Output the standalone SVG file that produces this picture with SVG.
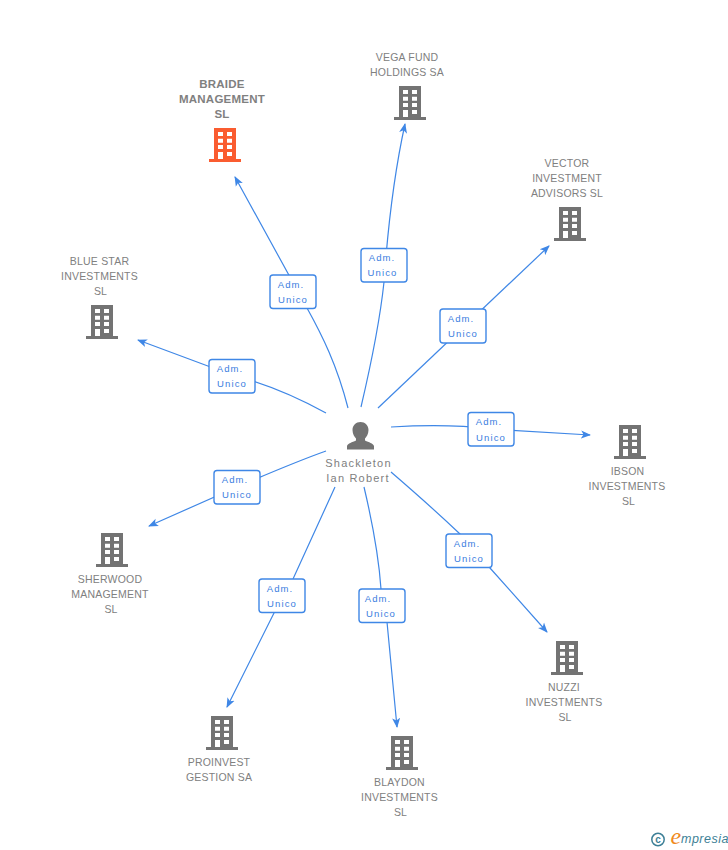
<svg xmlns="http://www.w3.org/2000/svg" width="728" height="850" viewBox="0 0 728 850">
<style>
text{font-family:"Liberation Sans",Arial,sans-serif}
.n{font-size:10.5px;fill:#808080;text-anchor:middle;letter-spacing:.2px}
.b{font-size:11.500px;font-weight:bold;fill:#808080;text-anchor:middle;letter-spacing:.25px}
.p{font-size:11px;fill:#808080;text-anchor:middle;letter-spacing:1.2px}
.l{font-size:9.500px;fill:#3a7de0;text-anchor:middle;letter-spacing:1.1px}
.r{fill:#fff;stroke:#3f87e6;stroke-width:1.400}
.c{fill:none;stroke:#3f87e6;stroke-width:1.200}
.g{fill:#737373}
.o{fill:#fa5c30}
</style>
<defs>
<marker id="a" markerUnits="userSpaceOnUse" viewBox="0 0 10 10" refX="9" refY="5" markerWidth="10" markerHeight="10" orient="auto"><path d="M0 1L10 5L0 9L2.500 5Z" fill="#3f87e6"/></marker>
<path id="bld" fill-rule="evenodd" d="M-11 0H11V31H16V34H-16V31H-11ZM-7 4V8H-2V4ZM2 4V8H7V4ZM-7 10.700V14.700H-2V10.700ZM2 10.700V14.700H7V10.700ZM-7 17V21H-2V17ZM2 17V21H7V17ZM-7 24V31H-2V24ZM2 24V28H7V24Z"/>
</defs>
<g id="connectors">
<path class="c" marker-end="url(#a)" d="M348 408C337 365 322 335 307 308L235 177"/>
<path class="c" marker-end="url(#a)" d="M361 407C372 360 380 320 384 282C389 210 396 165 405 124"/>
<path class="c" marker-end="url(#a)" d="M378 408L549 246"/>
<path class="c" marker-end="url(#a)" d="M326 413C290 393 260 382 232 375L138 340"/>
<path class="c" marker-end="url(#a)" d="M391 427C425 425 460 425 490 429L590 435"/>
<path class="c" marker-end="url(#a)" d="M326 451C295 462 265 475 237 487L149 526"/>
<path class="c" marker-end="url(#a)" d="M335 487L293 579L274 613L227 707"/>
<path class="c" marker-end="url(#a)" d="M364 487C373 525 379 560 381 589L387 622L397 727"/>
<path class="c" marker-end="url(#a)" d="M391 472C420 497 440 515 460 534L490 568L547 632"/>
</g>
<g id="badges">
<g><rect class="r" x="270" y="275" width="46" height="33.500" rx="3"/><text class="l" x="291" y="288">Adm.</text><text class="l" x="293" y="303">Unico</text></g>
<g><rect class="r" x="361" y="248.500" width="46" height="33.500" rx="3"/><text class="l" x="382" y="261">Adm.</text><text class="l" x="382.500" y="276">Unico</text></g>
<g><rect class="r" x="440" y="309" width="46" height="34" rx="3"/><text class="l" x="461" y="322">Adm.</text><text class="l" x="463" y="337">Unico</text></g>
<g><rect class="r" x="209" y="359.500" width="46" height="33.500" rx="3"/><text class="l" x="230" y="372">Adm.</text><text class="l" x="232" y="387">Unico</text></g>
<g><rect class="r" x="468" y="412.500" width="46" height="33.500" rx="3"/><text class="l" x="489" y="425">Adm.</text><text class="l" x="491" y="441">Unico</text></g>
<g><rect class="r" x="214" y="470.500" width="46" height="33.500" rx="3"/><text class="l" x="235" y="483">Adm.</text><text class="l" x="237" y="498">Unico</text></g>
<g><rect class="r" x="259" y="579" width="46" height="33.500" rx="3"/><text class="l" x="280" y="592">Adm.</text><text class="l" x="282" y="607">Unico</text></g>
<g><rect class="r" x="359" y="589" width="46" height="33.500" rx="3"/><text class="l" x="378" y="602">Adm.</text><text class="l" x="381" y="617">Unico</text></g>
<g><rect class="r" x="446" y="534" width="46" height="33.500" rx="3"/><text class="l" x="467" y="547">Adm.</text><text class="l" x="469" y="562">Unico</text></g>
</g>
<g id="person">
<path class="g" d="M360.500 422C365 422 368.500 425.500 368.500 430C368.500 434 366.500 437 365 438.500V440.500C369 442.500 373 443 374 446V449.500H347V446C348 443 352 442.500 356 440.500V438.500C354.500 437 352.500 434 352.500 430C352.500 425.500 356 422 360.500 422Z"/>
<text class="p" x="358.500" y="467">Shackleton</text>
<text class="p" x="358" y="482">Ian Robert</text>
</g>
<g id="braide"><use href="#bld" class="o" x="225" y="128"/><text class="b" x="222" y="88">BRAIDE</text><text class="b" x="222" y="103">MANAGEMENT</text><text class="b" x="222" y="118">SL</text></g>
<g id="vega"><use href="#bld" class="g" x="410" y="86"/><text class="n" x="407" y="61">VEGA FUND</text><text class="n" x="407" y="76">HOLDINGS SA</text></g>
<g id="vector"><use href="#bld" class="g" x="570" y="207"/><text class="n" x="567" y="167">VECTOR</text><text class="n" x="567" y="182">INVESTMENT</text><text class="n" x="567" y="197">ADVISORS SL</text></g>
<g id="bluestar"><use href="#bld" class="g" x="102" y="305"/><text class="n" x="99.500" y="265">BLUE STAR</text><text class="n" x="99.500" y="280">INVESTMENTS</text><text class="n" x="100.500" y="295">SL</text></g>
<g id="ibson"><use href="#bld" class="g" x="630" y="425"/><text class="n" x="627.500" y="475">IBSON</text><text class="n" x="627" y="490">INVESTMENTS</text><text class="n" x="628.500" y="505">SL</text></g>
<g id="sherwood"><use href="#bld" class="g" x="112" y="533"/><text class="n" x="110" y="583">SHERWOOD</text><text class="n" x="110" y="598">MANAGEMENT</text><text class="n" x="111" y="613">SL</text></g>
<g id="nuzzi"><use href="#bld" class="g" x="567" y="641"/><text class="n" x="564" y="691">NUZZI</text><text class="n" x="564" y="706">INVESTMENTS</text><text class="n" x="565" y="721">SL</text></g>
<g id="proinvest"><use href="#bld" class="g" x="222" y="716"/><text class="n" x="219" y="766">PROINVEST</text><text class="n" x="219" y="781">GESTION SA</text></g>
<g id="blaydon"><use href="#bld" class="g" x="402" y="736"/><text class="n" x="399.500" y="786">BLAYDON</text><text class="n" x="399.500" y="801">INVESTMENTS</text><text class="n" x="400.500" y="816">SL</text></g>
<g id="logo">
<circle cx="658" cy="839.500" r="6.200" fill="none" stroke="#3d7f96" stroke-width="1.500"/>
<text x="658" y="843" font-size="10" font-weight="bold" fill="#3d7f96" text-anchor="middle">c</text>
<text x="670.500" y="844" font-size="24" font-style="italic" fill="#f08a1d" style="font-family:'Liberation Serif',serif">e</text>
<text x="681" y="843" font-size="12.500" font-style="italic" fill="#3d7f96" letter-spacing=".5">mpresia</text>
</g>
</svg>
